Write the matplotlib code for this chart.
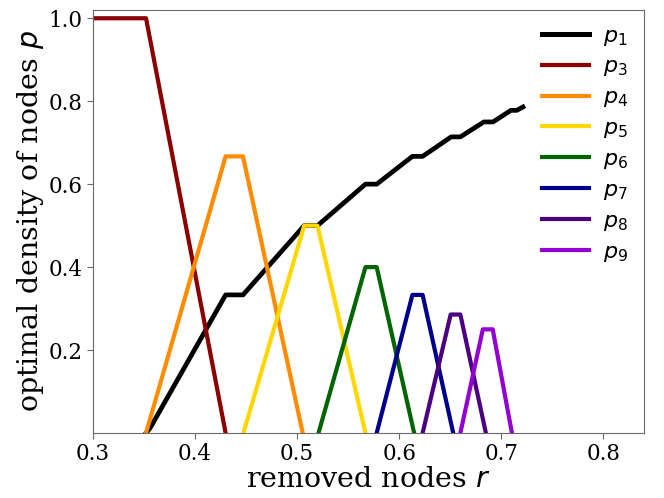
import matplotlib
matplotlib.use('Agg')
import matplotlib.pyplot as plt

# optimal densities p_k vs removed nodes r
r_p1 = [0.352, 0.356, 0.430, 0.447, 0.507, 0.520, 0.567, 0.578, 0.613, 0.623,
        0.651, 0.660, 0.683, 0.692, 0.7095, 0.7153, 0.7213]
p_p1 = [0.0, 0.012, 0.333, 0.333, 0.5, 0.5, 0.6, 0.6, 0.667, 0.667,
        0.714, 0.714, 0.75, 0.75, 0.778, 0.778, 0.786]

r_p3 = [0.3, 0.352, 0.430]
p_p3 = [1.0, 1.0, 0.0]

r_p4 = [0.352, 0.430, 0.447, 0.5055]
p_p4 = [0.0, 0.667, 0.667, 0.0]

r_p5 = [0.4474, 0.507, 0.520, 0.567]
p_p5 = [0.0, 0.5, 0.5, 0.0]

r_p6 = [0.521, 0.567, 0.578, 0.6147]
p_p6 = [0.0, 0.4, 0.4, 0.0]

r_p7 = [0.578, 0.613, 0.623, 0.653]
p_p7 = [0.0, 0.333, 0.333, 0.0]

r_p8 = [0.623, 0.6505, 0.660, 0.685]
p_p8 = [0.0, 0.2857, 0.2857, 0.0]

r_p9 = [0.660, 0.682, 0.6917, 0.7105]
p_p9 = [0.0, 0.25, 0.25, 0.0]

labels = ['$p_1$', '$p_3$', '$p_4$', '$p_5$', '$p_6$', '$p_7$', '$p_8$', '$p_9$']
colors = ['black', 'darkred', 'darkorange', 'gold', 'darkgreen', 'darkblue', 'indigo', 'darkviolet']

series = [(r_p1, p_p1), (r_p3, p_p3), (r_p4, p_p4), (r_p5, p_p5),
          (r_p6, p_p6), (r_p7, p_p7), (r_p8, p_p8), (r_p9, p_p9)]

fig = plt.figure(figsize=(6.64, 4.98), dpi=100)
ax = fig.add_axes([0.140, 0.1305, 0.830, 0.8495])

for (rr, pp), lab, c in zip(series, labels, colors):
    lw = 3.4 if c == 'black' else 3.0
    ax.plot(rr, pp, color=c, linewidth=lw, label=lab)

ax.set_xlim(0.3, 0.84)
ax.set_ylim(0, 1.02)
ax.set_xticks([0.3, 0.4, 0.5, 0.6, 0.7, 0.8])
ax.set_yticks([0.2, 0.4, 0.6, 0.8, 1.0])
ax.tick_params(labelsize=15.5, length=4, color='dimgray')
for lab in ax.get_xticklabels() + ax.get_yticklabels():
    lab.set_family('DejaVu Serif')
for s in ax.spines.values():
    s.set_color('dimgray')

ax.set_xlabel('removed nodes $r$', fontsize=20.5, family='DejaVu Serif', labelpad=0.5)
ax.set_ylabel('optimal density of nodes $p$', fontsize=20.5, family='DejaVu Serif',
              labelpad=2)

leg = ax.legend(loc='upper right', frameon=False, fontsize=16, handlelength=2.1,
                labelspacing=0.4, handletextpad=0.65, borderaxespad=0.3)
for ln in leg.get_lines():
    ln.set_linewidth(3.0)
leg.get_lines()[0].set_linewidth(3.6)

plt.savefig('out.png', dpi=100)
